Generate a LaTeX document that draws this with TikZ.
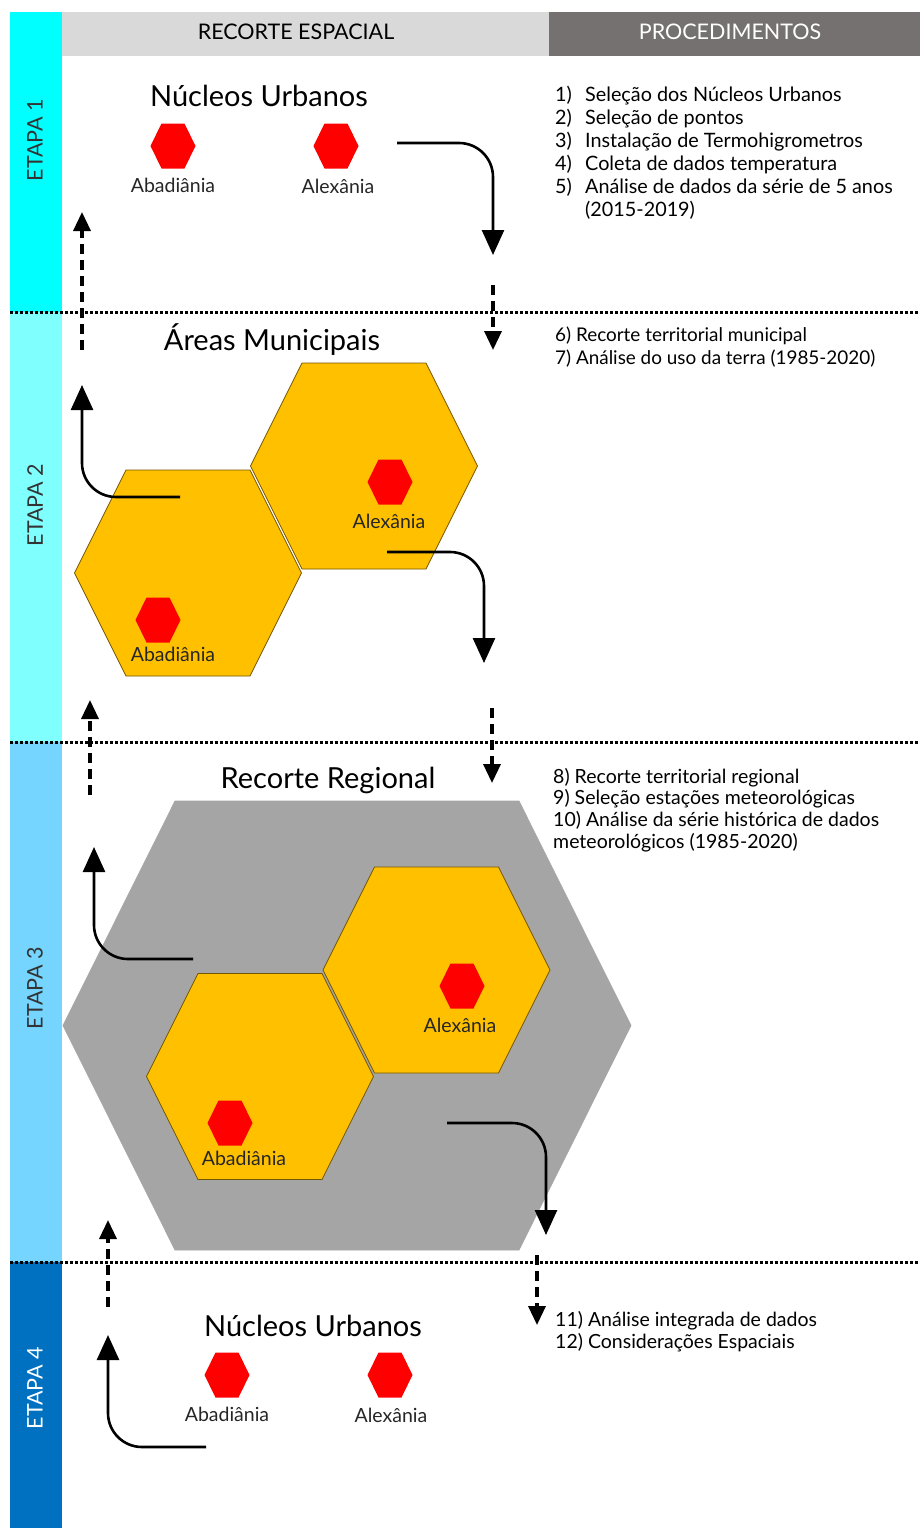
\documentclass[tikz,border=0pt]{standalone}
\usepackage{fontspec}
\setmainfont{Lato}
\usetikzlibrary{arrows.meta}

\definecolor{etapa one}{HTML}{00FFFF}
\definecolor{etapa two}{HTML}{80FFFF}
\definecolor{etapa three}{HTML}{75D5FF}
\definecolor{etapa four}{HTML}{0070C0}
\definecolor{head light}{HTML}{D9D9D9}
\definecolor{head dark}{HTML}{767171}
\definecolor{hex orange}{HTML}{FFC000}
\definecolor{hex gray}{HTML}{A5A5A5}
\colorlet{hex edge}{hex orange!45!black}

% centre x, centre y, half width, half top edge, half height
\newcommand{\hexa}[5]{({#1-#3},#2) -- ({#1-#4},{#2-#5}) -- ({#1+#4},{#2-#5}) -- ({#1+#3},#2) -- ({#1+#4},{#2+#5}) -- ({#1-#4},{#2+#5}) -- cycle}
\def\urbano#1#2{\hexa{#1}{#2}{22.5}{11.5}{22.5}}
\def\municipio#1#2{\hexa{#1}{#2}{113.5}{62}{103}}

\tikzset{hexurbano/.style={fill=red},
    hexmunicipio/.style={fill=hex orange, draw=hex edge, line width=0.7pt},
    hexregiao/.style={fill=hex gray, draw=black!35, line width=0.7pt},
    fluxo/.style={line width=2.6pt, rounded corners=34pt, -{Triangle[width=22pt,length=25pt]}},
    retorno/.style={line width=3.4pt, dash pattern=on 10pt off 6pt, -{Triangle[width=17pt,length=19pt]}},
    divisa/.style={line width=3pt, dash pattern=on 2.6pt off 2.4pt},
    titulo/.style={anchor=base, font=\fontsize{29}{32}\selectfont},
    cidade/.style={anchor=base, text=black!85, font=\fontsize{19.5}{22}\selectfont},
    passos/.style={anchor=base west, inner sep=0pt, font=\fontsize{19.5}{23}\selectfont},
    etapa/.style={rotate=90, text=black!80, font=\fontsize{21.5}{24}\selectfont},
    cabeca/.style={font=\fontsize{21.5}{24}\selectfont}}

\begin{document}
\begin{tikzpicture}[x=1pt,y=-1pt]
    \useasboundingbox (0,0) rectangle (920,1528);

    \fill[etapa one] (10,12) rectangle (62,312);
    \fill[etapa two] (10,312) rectangle (62,742);
    \fill[etapa three] (10,742) rectangle (62,1262);
    \fill[etapa four] (10,1262) rectangle (62,1528);
    \fill[head light] (62,12) rectangle (549,56);
    \fill[head dark] (549,12) rectangle (920,56);

    \node[cabeca] (recorte) at (296,32) {RECORTE ESPACIAL};
    \node[cabeca, text=white] (procedimentos) at (730,32) {PROCEDIMENTOS};

    \node[etapa] (etapa1) at (35,140) {ETAPA 1};
    \node[etapa] (etapa2) at (35,505) {ETAPA 2};
    \node[etapa] (etapa3) at (35,988) {ETAPA 3};
    \node[etapa, text=white] (etapa4) at (35,1388) {ETAPA 4};

    \foreach \y in {312,742,1262}
        \draw[divisa] (10,\y) -- (920,\y);

    % etapa 1
    \node[titulo] (nucleos) at (259,106) {Núcleos Urbanos};
    \fill[hexurbano] \urbano{173}{146};
    \fill[hexurbano] \urbano{336}{146};
    \node[cidade] (abadiania1) at (173,192) {Abadiânia};
    \node[cidade] (alexania1) at (338,193) {Alexânia};
    \node[passos, font=\fontsize{19.8}{23}\selectfont] (passos1) at (555,101) {\begin{tabular}[t]{@{}p{30pt}@{}l@{}}
        1) & Seleção dos Núcleos Urbanos\\
        2) & Seleção de pontos\\
        3) & Instalação de Termohigrometros\\
        4) & Coleta de dados temperatura\\
        5) & Análise de dados da série de 5 anos\\
           & (2015-2019)
        \end{tabular}};

    % etapa 2
    \node[titulo] (areas) at (272,350) {Áreas Municipais};
    \filldraw[hexmunicipio] \municipio{188}{573};
    \filldraw[hexmunicipio] \municipio{364}{466};
    \fill[hexurbano] \urbano{390}{482};
    \fill[hexurbano] \urbano{158}{620};
    \node[cidade] (alexania2) at (389,528) {Alexânia};
    \node[cidade] (abadiania2) at (173,661) {Abadiânia};
    \node[passos, font=\fontsize{18.9}{23}\selectfont] (passos2) at (555,341) {\begin{tabular}[t]{@{}l@{}}
        6) Recorte territorial municipal\\
        7) Análise do uso da terra (1985-2020)
        \end{tabular}};

    % etapa 3
    \node[titulo] (regional) at (328,788) {Recorte Regional};
    \filldraw[hexregiao] \hexa{347}{1025.5}{284}{172}{224.5};
    \filldraw[hexmunicipio] \municipio{260}{1076.5};
    \filldraw[hexmunicipio] \municipio{436.5}{970};
    \fill[hexurbano] \urbano{462}{986};
    \fill[hexurbano] \urbano{230}{1123};
    \node[cidade] (alexania3) at (460,1032) {Alexânia};
    \node[cidade] (abadiania3) at (244,1165) {Abadiânia};
    \node[passos, font=\fontsize{19.5}{21.7}\selectfont] (passos3) at (553,783) {\begin{tabular}[t]{@{}l@{}}
        8) Recorte territorial regional\\
        9) Seleção estações meteorológicas\\
        10) Análise da série histórica de dados\\
        meteorológicos (1985-2020)
        \end{tabular}};

    % etapa 4
    \node[titulo] (nucleos4) at (313,1336) {Núcleos Urbanos};
    \fill[hexurbano] \urbano{227}{1375};
    \fill[hexurbano] \urbano{390}{1375};
    \node[cidade] (abadiania4) at (227,1421) {Abadiânia};
    \node[cidade] (alexania4) at (391,1422) {Alexânia};
    \node[passos, font=\fontsize{19.5}{22}\selectfont] (passos4) at (555,1326) {\begin{tabular}[t]{@{}l@{}}
        11) Análise integrada de dados\\
        12) Considerações Espaciais
        \end{tabular}};

    % fluxo entre etapas
    \coordinate (ida1) at (397,143);
    \coordinate (chegada1) at (493,255);
    \coordinate (ida2) at (387,552);
    \coordinate (chegada2) at (484,663);
    \coordinate (ida3) at (447,1123);
    \coordinate (chegada3) at (546,1235);
    \coordinate (volta2) at (180,497);
    \coordinate (topo2) at (82,385);
    \coordinate (volta3) at (193,959);
    \coordinate (topo3) at (94,847);
    \coordinate (volta4) at (206,1447);
    \coordinate (topo4) at (108,1335);
    \draw[fluxo] (ida1) -| (chegada1);
    \draw[fluxo] (ida2) -| (chegada2);
    \draw[fluxo] (ida3) -| (chegada3);
    \draw[fluxo] (volta2) -| (topo2);
    \draw[fluxo] (volta3) -| (topo3);
    \draw[fluxo] (volta4) -| (topo4);

    \coordinate (desce1) at (493,285);
    \coordinate (pouso1) at (493,350);
    \coordinate (desce2) at (492,708);
    \coordinate (pouso2) at (492,783);
    \coordinate (desce3) at (537,1255);
    \coordinate (pouso3) at (537,1325);
    \coordinate (sobe1) at (82,350);
    \coordinate (alto1) at (82,212);
    \coordinate (sobe2) at (90,795);
    \coordinate (alto2) at (90,700);
    \coordinate (sobe3) at (108,1307);
    \coordinate (alto3) at (108,1220);
    \draw[retorno] (desce1) -- (pouso1);
    \draw[retorno] (desce2) -- (pouso2);
    \draw[retorno] (desce3) -- (pouso3);
    \draw[retorno] (sobe1) -- (alto1);
    \draw[retorno] (sobe2) -- (alto2);
    \draw[retorno] (sobe3) -- (alto3);

\end{tikzpicture}
\end{document}
